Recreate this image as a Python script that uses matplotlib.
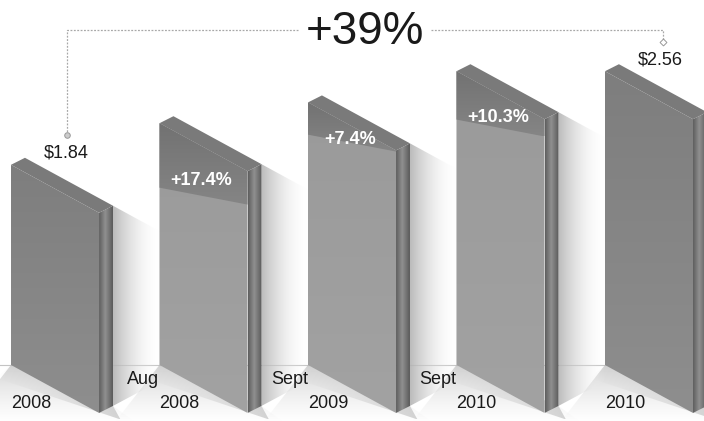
import numpy as np
import matplotlib
matplotlib.use("Agg")
import matplotlib.pyplot as plt
from matplotlib.patches import Polygon
from matplotlib.colors import to_rgb

plt.rcParams['font.family'] = ['Liberation Sans', 'DejaVu Sans']

# data
months = ["", "Aug", "Sept", "Sept", ""]
years = ["2008", "2008", "2009", "2010", "2010"]
prices = [1.84, 2.16, 2.32, 2.56, 2.56]
growth = ["", "+17.4%", "+7.4%", "+10.3%", ""]
price_labels = ["$1.84", "", "", "", "$2.56"]
total_growth = "+39%"

# pseudo 3d geometry (category units / value units)
BASE = 0.3
W = 0.593
SLANT = 0.369
DX, DY = 0.094, 0.054
BAND_K = 1.55
TXT = "#1a1a1a"


def grad(ax, verts, stops, horizontal=True, z=1):
    xs = [p[0] for p in verts]
    ys = [p[1] for p in verts]
    t = np.linspace(0, 1, 64)
    pos = [s[0] for s in stops]
    cols = np.array([to_rgb(s[1]) + (s[2],) for s in stops])
    arr = np.stack([np.interp(t, pos, cols[:, k]) for k in range(4)], axis=-1)
    img = arr[None, :, :] if horizontal else arr[::-1][:, None, :]
    im = ax.imshow(img, extent=(min(xs), max(xs), min(ys), max(ys)),
                   aspect="auto", interpolation="bilinear", zorder=z)
    clip = Polygon(verts, closed=True, facecolor="none", edgecolor="none",
                   transform=ax.transData)
    ax.add_patch(clip)
    im.set_clip_path(clip)


fig = plt.figure(figsize=(7.04, 4.21), dpi=100)
ax = fig.add_axes([0, 0, 1, 1])
ax.axis("off")

ax.axhline(BASE, color="#c4c4c4", lw=0.8, zorder=0.5)

slope = SLANT / W
for i, v in enumerate(prices):
    x0, x1, x2 = i, i + W, i + W + DX
    # floor shade under the bar (soft, two layers)
    floor = [(x0, BASE), (x2, BASE - SLANT + DY), (x2 + 0.15, -0.14), (x0 - 0.3, -0.14)]
    grad(ax, floor, [(0, "#d8d8d8", 0.0), (0.6, "#c8c8c8", 0.4), (1, "#b8b8b8", 0.65)],
         horizontal=False, z=0.8)
    edge = [(x0, BASE), (x2, BASE - SLANT + DY), (x2 + 0.05, BASE - SLANT - 0.05), (x0 - 0.1, BASE - 0.1)]
    grad(ax, edge, [(0, "#c0c0c0", 0.0), (1, "#b0b0b0", 0.55)], horizontal=True, z=0.85)
    # side shadow to the right
    ty = v - SLANT + DY
    sw = 0.32
    sh = [(x2, ty), (x2 + sw, ty - slope * sw), (x2 + sw, BASE - 0.12), (x2, BASE - SLANT + DY)]
    grad(ax, sh, [(0, "#b4b4b4", 0.9), (0.45, "#d4d4d4", 0.5), (1, "#ffffff", 0.0)], z=1)

    front = [(x0, BASE), (x0, v), (x1, v - SLANT), (x1, BASE - SLANT)]
    top = [(x0, v), (x0 + DX, v + DY), (x2, v - SLANT + DY), (x1, v - SLANT)]
    side = [(x1, v - SLANT), (x2, v - SLANT + DY), (x2, BASE - SLANT + DY), (x1, BASE - SLANT)]

    if growth[i]:
        grad(ax, front, [(0, "#a2a2a2", 1), (1, "#9a9a9a", 1)], horizontal=False, z=3)
        band = BAND_K * (v - prices[i - 1])
        band_poly = [(x0, v), (x1, v - SLANT),
                     (x1, min(v - SLANT, v - band - 0.13)), (x0, v - band)]
        grad(ax, band_poly, [(0, "#858585", 1), (1, "#727272", 1)], horizontal=False, z=3.5)
        ax.text(x0 + 0.283, v - (0.16 + 0.63 * band), growth[i], color="white",
                fontsize=13, fontweight="bold", ha="center", va="baseline", zorder=6)
    else:
        grad(ax, front, [(0, "#8e8e8e", 1), (1, "#7e7e7e", 1)], horizontal=False, z=3)
    grad(ax, side, [(0, "#5e5e5e", 1), (0.45, "#909090", 1), (1, "#5a5a5a", 1)], z=3)
    ax.add_patch(Polygon(top, closed=True, facecolor="#7a7a7a", edgecolor="none", zorder=3))

    ax.text(x0 + 0.135, -0.031, years[i], fontsize=13, color=TXT, ha="center", va="baseline", zorder=6)
    if months[i]:
        ax.text(x0, 0.154, months[i], fontsize=13, color=TXT, ha="right", va="baseline", zorder=6)
    if price_labels[i]:
        ax.text(x0 + 0.375, v + 0.055, price_labels[i], fontsize=13, color=TXT,
                ha="center", va="baseline", zorder=6)

# connector and headline
line_y = 2.877
lx = 0 + 0.377
rx = len(prices) - 1 + 0.39
mid = (lx + rx) / 2
half = 0.445
ax.plot([lx, lx, mid - half], [prices[0] + 0.23, line_y, line_y], color="#a8a8a8",
        lw=0.9, ls=(0, (1.5, 1.2)), zorder=2)
ax.plot([mid + half, rx, rx], [line_y, line_y, prices[-1] + 0.225], color="#a8a8a8",
        lw=0.9, ls=(0, (1.5, 1.2)), zorder=2)
ax.plot(lx, prices[0] + 0.23, marker="o", ms=4, mfc="#cccccc", mec="#999999", mew=0.7, zorder=2)
ax.plot(rx, prices[-1] + 0.225, marker="D", ms=3.5, mfc="white", mec="#999999", mew=0.7, zorder=2)
ax.text(mid, 2.861, total_growth, fontsize=33, color=TXT, ha="center", va="center", zorder=6)

ax.set_xlim(-0.074, 4.667)
ax.set_ylim(-0.131, 3.108)
fig.savefig("out.png", dpi=100, facecolor="white")
